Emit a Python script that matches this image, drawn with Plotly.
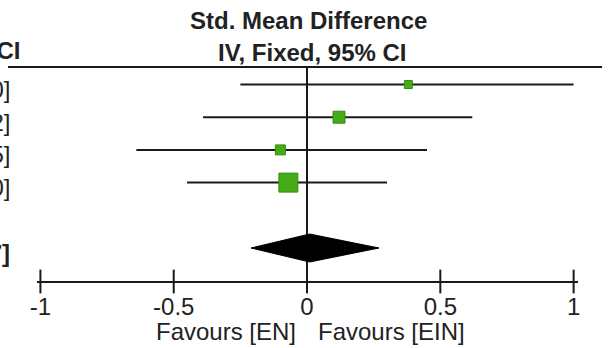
import plotly.graph_objects as go
import math

# ---- data ----
row_index = [1, 2, 3, 4]
estimates = [0.38, 0.12, -0.10, -0.07]
ci_low = [-0.25, -0.39, -0.64, -0.45]
ci_high = [1.00, 0.62, 0.45, 0.30]
weights = [9.6, 21.5, 14.9, 54.0]
total_index = 6
total_est = 0.01
total_low = -0.21
total_high = 0.27
tick_vals = [-1, -0.5, 0, 0.5, 1]
tick_text = ["-1", "-0.5", "0", "0.5", "1"]
header_1 = "Std. Mean Difference"
header_2 = "IV, Fixed, 95% CI"
favours_left = "Favours [EN]"
favours_right = "Favours [EIN]"

# ---- layout constants ----
W, H = 611, 348
ROW1_PX, ROW_STEP = 84.5, 32.7
AXIS_PX = 281.5
HEADER_PX = 67
X0_PX, X_SCALE = 304.5, 271.5
DOM_L, DOM_R = 30, 580
FONT = "Liberation Sans, Arial, sans-serif"
TXT = "#222222"
GREEN = "#45ab18"
GREEN_EDGE = "#368f10"
LINE = "#1a1a1a"


def px_to_idx(py):
    return 1 + (py - ROW1_PX) / ROW_STEP


def px_to_x(px):
    return (px - X0_PX) / X_SCALE


y_top = px_to_idx(0)
y_bot = px_to_idx(H)
axis_idx = px_to_idx(AXIS_PX)
header_idx = px_to_idx(HEADER_PX)

fig = go.Figure()

# confidence interval lines
for r, lo, hi in zip(row_index, ci_low, ci_high):
    fig.add_trace(go.Scatter(x=[lo, hi], y=[r, r], mode="lines",
                             line=dict(color=LINE, width=2), hoverinfo="skip",
                             showlegend=False))

# zero line
fig.add_trace(go.Scatter(x=[0, 0], y=[header_idx, axis_idx], mode="lines",
                         line=dict(color=LINE, width=2), hoverinfo="skip",
                         showlegend=False))

# point estimates (squares sized by weight)
k = 19 / math.sqrt(max(weights))
fig.add_trace(go.Scatter(
    x=estimates, y=row_index, mode="markers",
    marker=dict(symbol="square", size=[k * math.sqrt(w) for w in weights],
                color=GREEN, opacity=1, line=dict(color=GREEN_EDGE, width=1)),
    showlegend=False))

# pooled diamond
h = 14 / ROW_STEP
fig.add_trace(go.Scatter(
    x=[total_low, total_est, total_high, total_est, total_low],
    y=[total_index, total_index - h, total_index, total_index + h, total_index],
    mode="lines", fill="toself", fillcolor="#000000",
    line=dict(color="#000000", width=1), showlegend=False))

# tick marks crossing the axis line
fig.add_trace(go.Scatter(
    x=tick_vals, y=[axis_idx] * len(tick_vals), mode="markers",
    marker=dict(symbol="line-ns", size=17, line=dict(color=LINE, width=2)),
    showlegend=False, hoverinfo="skip", cliponaxis=False))

fig.update_layout(
    width=W, height=H,
    margin=dict(l=0, r=0, t=0, b=0),
    paper_bgcolor="white", plot_bgcolor="white",
    font=dict(family=FONT, size=24, color=TXT),
    xaxis=dict(domain=[DOM_L / W, DOM_R / W],
               range=[px_to_x(DOM_L), px_to_x(DOM_R)],
               anchor="free", position=1 - AXIS_PX / H,
               showline=True, linecolor=LINE, linewidth=2,
               ticks="outside", ticklen=4, tickwidth=1,
               tickcolor="rgba(0,0,0,0)",
               tickvals=tick_vals, ticktext=tick_text,
               tickfont=dict(size=24, color=TXT, family=FONT),
               showgrid=False, zeroline=False, fixedrange=True),
    yaxis=dict(domain=[0, 1], range=[y_bot, y_top], visible=False,
               showgrid=False, zeroline=False, fixedrange=True),
    showlegend=False,
)

# header line
fig.add_shape(type="line", xref="paper", yref="paper",
              x0=0, x1=605 / W, y0=1 - HEADER_PX / H, y1=1 - HEADER_PX / H,
              line=dict(color=LINE, width=2))

ann = []
ann.append(dict(text=f"<b>{header_1}</b>", x=306 / W, y=1 - 21 / H))
ann.append(dict(text=f"<b>{header_2}</b>", x=310 / W, y=1 - 52 / H))
for a in ann:
    a.update(xref="paper", yref="paper", xanchor="center", yanchor="middle",
             showarrow=False, font=dict(size=24, family=FONT, color=TXT))
fig.update_layout(annotations=ann)

# left table (clipped at the figure edge)
fig.add_annotation(text=f"<b>{header_2}</b>", xref="paper", yref="paper",
                   x=15 / W, y=1 - 50 / H, xanchor="right", yanchor="middle",
                   showarrow=False, font=dict(size=24, family=FONT, color=TXT))
for r, e, lo, hi in zip(row_index, estimates, ci_low, ci_high):
    fig.add_annotation(text=f"{e:.2f} [{lo:.2f}, {hi:.2f}]", xref="paper", yref="y",
                       x=4 / W, y=r, xanchor="right", yanchor="middle", yshift=-5,
                       showarrow=False, font=dict(size=24, family=FONT, color=TXT))
fig.add_annotation(text=f"<b>{total_est:.2f} [{total_low:.2f}, {total_high:.2f}]</b>",
                   xref="paper", yref="y", x=4 / W, y=total_index,
                   xanchor="right", yanchor="middle", yshift=-5, showarrow=False,
                   font=dict(size=24, family=FONT, color=TXT))

# favours labels
fig.add_annotation(text=favours_left, xref="paper", yref="paper", x=221.5 / W,
                   y=1 - 331 / H, xanchor="center", yanchor="middle", showarrow=False,
                   font=dict(size=24, family=FONT, color=TXT))
fig.add_annotation(text=favours_right, xref="paper", yref="paper", x=391 / W,
                   y=1 - 331 / H, xanchor="center", yanchor="middle", showarrow=False,
                   font=dict(size=24, family=FONT, color=TXT))

fig.write_html("out.html", config={"displayModeBar": False})
